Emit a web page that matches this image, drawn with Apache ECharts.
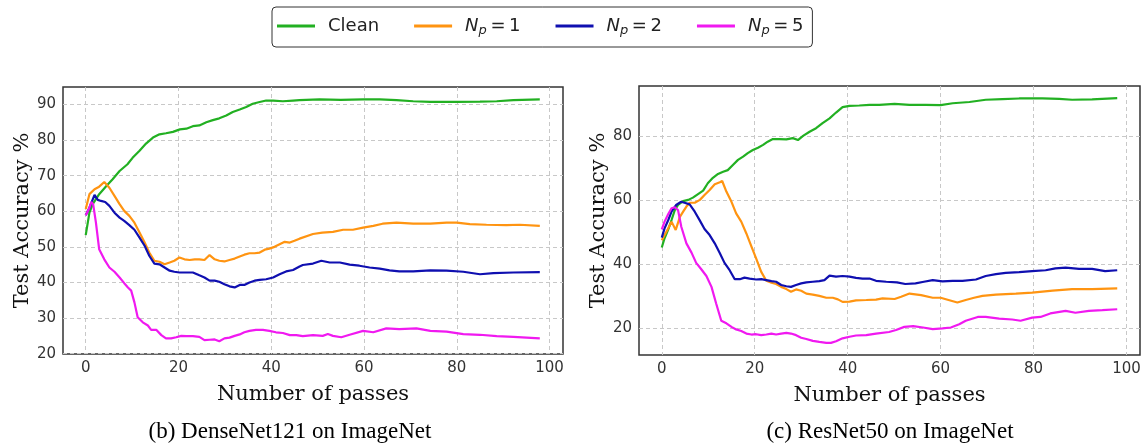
<!DOCTYPE html>
<html>
<head>
<meta charset="utf-8">
<script src="https://cdn.jsdelivr.net/npm/echarts@6/dist/echarts.min.js"></script>
<style>
  html, body { margin: 0; padding: 0; background: #fff; }
  #chart { width: 1146px; height: 447px; }
</style>
</head>
<body>
<div id="chart"></div>
<script>
// tick labels
var xTicks = [0, 20, 40, 60, 80, 100];
var yTicksLeft = [20, 30, 40, 50, 60, 70, 80, 90];
var yTicksRight = [20, 40, 60, 80];

var seriesNames = ['Clean', 'Np = 1', 'Np = 2', 'Np = 5'];
var seriesColors = ['#22b022', '#ff9411', '#0f0fb0', '#f019f0'];

// (b) DenseNet121 on ImageNet  -- [pass, accuracy]
var denseClean = [[0,53.3],[0.8,59.6],[1.5,62],[2.9,64.8],[4.4,67],[5.8,69],[7.3,71.3],[9,73.2],[10.1,75],[11.6,77],[13,79],[14.5,80.7],[15.9,81.6],[17.3,81.9],[18.8,82.3],[20.3,83],[21.7,83.2],[23.1,83.9],[24.5,84.1],[26,85],[27.4,85.6],[28.8,86.1],[30.3,86.9],[31.7,87.9],[33.2,88.6],[34.6,89.3],[36,90.2],[37.5,90.7],[38.9,91.1],[40.4,91.1],[42.5,90.9],[44.7,91.1],[46.1,91.2],[50.4,91.4],[55,91.3],[59.8,91.4],[63.4,91.4],[67,91.2],[70.6,90.9],[74.3,90.7],[80,90.7],[85,90.8],[88.6,90.9],[92.2,91.2],[97.9,91.4]];
var denseNp1 = [[0,60.6],[0.8,64.8],[1.9,66.2],[2.9,66.9],[4,68.2],[5.1,66.6],[6.2,64.3],[7.3,62],[8.3,60.1],[9.4,58.7],[10.5,56.8],[11.6,54],[12.7,51.2],[13.7,48.4],[14.8,46.1],[15.9,45.8],[17,45.1],[18.1,45.6],[19.1,46.1],[20.2,47],[21.3,46.5],[22.4,46.3],[23.5,46.5],[24.5,46.5],[25.6,46.3],[26.7,47.7],[27.8,46.5],[28.8,46.1],[29.9,45.9],[31,46.3],[32.1,46.7],[33.2,47.3],[34.2,47.8],[35.3,48.2],[36.4,48.2],[37.5,48.4],[38.6,49.2],[39.6,49.5],[40.7,50],[41.8,50.7],[42.9,51.4],[44,51.2],[45,51.7],[46.1,52.3],[49,53.6],[51,54],[53.3,54.2],[55.5,54.8],[57.6,54.8],[59.8,55.4],[62,55.9],[64,56.5],[67,56.8],[70.6,56.5],[74.3,56.5],[77.8,56.8],[80,56.8],[82.8,56.4],[86.4,56.2],[90.7,56.1],[93.6,56.2],[97.9,55.9]];
var denseNp2 = [[0,58.9],[0.8,61],[1.9,64.6],[2.6,63.2],[3.3,62.9],[4.2,62.6],[5.1,61.5],[6.2,59.6],[7.3,58.2],[8.3,57.3],[9.4,56.1],[10.5,54.8],[11.6,52.6],[12.7,50.3],[13.7,47.5],[14.8,45.3],[15.9,45.1],[17,44.2],[18.1,43.3],[19.1,43],[20.2,42.8],[21.7,42.8],[23.1,42.8],[24.5,42],[25.6,41.4],[26.7,40.5],[27.8,40.5],[28.8,40.2],[29.9,39.5],[31,38.9],[32.1,38.6],[33.2,39.3],[34.2,39.3],[35.3,40],[36.4,40.5],[37.5,40.7],[38.9,40.9],[40.4,41.4],[41.8,42.3],[43.2,43.1],[44.7,43.5],[46.1,44.5],[46.8,44.9],[49,45.3],[50.8,46.1],[52.6,45.6],[54.8,45.6],[56.9,45],[59,44.7],[61.2,44.2],[63.4,43.9],[65.5,43.4],[67.6,43.1],[70.6,43.1],[74.3,43.4],[77.8,43.3],[81.4,43],[85,42.3],[87.9,42.6],[92.2,42.8],[97.9,42.9]];
var denseNp5 = [[0,58.9],[0.8,61],[1.2,62.6],[1.6,62],[2.2,56.8],[2.9,49.3],[4,46.5],[5.1,44.2],[6.2,43],[7.3,41.4],[8.3,39.8],[9.1,38.6],[9.8,37.7],[10.5,34.4],[11.2,30.2],[12.3,28.8],[13.4,27.9],[14.1,26.7],[15.2,26.7],[16.3,25.2],[17.3,24.3],[18.4,24.3],[19.5,24.6],[20.6,25],[21.7,24.9],[23.1,24.9],[24.5,24.7],[25.6,23.8],[26.7,23.9],[27.8,24],[28.8,23.5],[29.9,24.3],[31,24.5],[32.1,25],[33.2,25.4],[34.2,26],[35.3,26.4],[36.7,26.7],[38.2,26.7],[39.6,26.4],[41,26],[42.5,25.8],[44,25.2],[45.4,25.2],[46.8,24.9],[49,25.2],[51.1,25],[52.2,25.5],[53.3,25],[55.1,24.6],[56.9,25.3],[59.8,26.4],[62,26],[64.8,27.1],[67.6,26.9],[71.3,27.1],[74.3,26.4],[77.8,26.2],[81.4,25.5],[85,25.3],[88.6,24.9],[92.2,24.7],[97.9,24.3]];

// (c) ResNet50 on ImageNet
var resClean = [[0,45.1],[0.6,48],[1.4,50.8],[2.1,53.7],[2.8,56.8],[3.5,58.4],[4.6,59.6],[5.7,60],[6.7,60.7],[7.8,61.8],[8.9,62.9],[9.9,65.2],[11,66.9],[12.1,68.1],[13.2,68.8],[14.2,69.3],[15.3,70.9],[16.4,72.5],[17.5,73.5],[18.5,74.6],[19.6,75.6],[20.7,76.3],[21.8,77.2],[22.8,78.2],[23.9,79],[25.3,79],[26.8,78.9],[28.2,79.3],[29.3,78.7],[30.4,80],[31.8,81.3],[33.2,82.4],[34.6,84],[36.1,85.5],[37.5,87.3],[38.9,89],[40.4,89.4],[42.5,89.5],[44.7,89.7],[46.8,89.7],[50.1,90],[53.3,89.7],[56.8,89.7],[60,89.6],[62.6,90.2],[66.2,90.6],[69.7,91.3],[73.3,91.5],[76.9,91.7],[81.9,91.7],[85.5,91.6],[88.3,91.3],[92.6,91.4],[98,91.8]];
var resNp1 = [[0,47.4],[0.6,49],[1.4,51.1],[2.1,53.2],[3,50.6],[3.9,54.7],[4.6,56.3],[5.3,57.9],[6,59.1],[7.1,59.1],[8.2,60],[9.2,61.5],[10.3,63.1],[11.4,64.9],[12.5,65.5],[13,65.9],[13.9,62.6],[15,59.4],[16,55.8],[17.1,53.2],[18.2,49.5],[19.3,45.4],[20.3,41.7],[21.4,37.5],[22.5,34.7],[23.6,34.1],[24.6,33.7],[25.7,32.8],[26.8,32.1],[27.8,31.3],[28.9,32],[30,31.6],[31.1,30.7],[32.5,30.4],[33.9,30],[35.4,29.4],[36.8,29.4],[37.9,28.9],[38.9,28.1],[40.4,28.2],[41.8,28.6],[44,28.7],[46.1,28.8],[47.5,29.2],[50.1,29],[51.5,29.7],[53.3,30.7],[55.8,30.2],[58.3,29.4],[60,29.4],[61.7,28.7],[63.6,27.9],[65.4,28.7],[67.2,29.4],[69,30],[71.9,30.4],[76.2,30.7],[79.7,31],[84.1,31.6],[88.3,32.1],[92.6,32.1],[98,32.3]];
var resNp2 = [[0,48.2],[0.6,51.1],[1.4,53.7],[2.1,56.3],[3.1,58.4],[4.1,59.4],[4.9,59.1],[6,58.6],[7.1,56.3],[8.2,53.5],[9.2,50.9],[10.3,49],[11.4,46.4],[12.5,43.3],[13.5,40.3],[14.6,38],[15.7,35.2],[16.8,35.2],[17.8,35.7],[18.9,35.4],[20.3,35.1],[21.4,35.2],[22.5,34.9],[23.6,34.6],[24.6,34.4],[25.7,33.4],[26.8,33],[27.8,32.8],[28.9,33.4],[30,33.9],[31.1,34.2],[32.5,34.4],[33.9,34.6],[35,34.9],[36.1,36.3],[37.5,36],[38.9,36.2],[40.4,36],[41.8,35.6],[43.2,35.4],[44.7,35.4],[46.1,34.7],[48.3,34.4],[50.6,34.2],[52.4,33.7],[54.6,33.9],[56.4,34.4],[58.3,34.9],[60.4,34.5],[62.6,34.7],[64.7,34.7],[67.6,35.1],[69.7,36.2],[71.9,36.8],[74,37.2],[76.9,37.4],[79.7,37.7],[82.6,38],[84.7,38.6],[86.9,38.8],[89.8,38.4],[92.6,38.4],[95.4,37.7],[98,38]];
var resNp5 = [[0,50.8],[0.6,53.2],[1.4,55.6],[2.1,57.4],[2.8,57.7],[3.5,56.8],[4.2,51.6],[5.3,46.4],[6.4,43.5],[7.4,40.3],[8.5,38.3],[9.6,36.2],[10.7,32.8],[11.7,27.6],[12.8,22.2],[13.9,21.4],[15,20.3],[16,19.5],[17.1,19],[18.2,18.2],[19.3,17.9],[20.3,18],[21.4,17.7],[22.5,17.9],[23.6,18.2],[24.6,17.9],[25.7,18.2],[26.8,18.4],[27.8,18.2],[28.9,17.7],[30,16.9],[31.1,16.5],[32.5,15.9],[33.9,15.6],[35.4,15.3],[36.4,15.3],[37.5,15.8],[38.9,16.7],[40.4,17.2],[41.8,17.6],[44,17.7],[46.1,18.2],[48.9,18.7],[50.4,19.3],[52.2,20.3],[54.1,20.5],[56.2,20.1],[58.3,19.6],[60.4,19.8],[62.2,20.1],[64,21.1],[65.4,22.2],[68,23.4],[69.7,23.4],[72.6,22.9],[75.4,22.6],[77.2,22.2],[79.7,23.2],[81.5,23.4],[83.6,24.5],[86.9,25.3],[89,24.7],[91.9,25.3],[94.8,25.5],[98,25.8]];

var panels = [
  { data: [denseClean, denseNp1, denseNp2, denseNp5], yMin: 19.9, yMax: 94.9, yTicks: yTicksLeft,
    caption: '(b) DenseNet121 on ImageNet', grid: { left: 63, top: 87, right: 583, bottom: 93 } },
  { data: [resClean, resNp1, resNp2, resNp5], yMin: 11.5, yMax: 95.6, yTicks: yTicksRight,
    caption: '(c) ResNet50 on ImageNet', grid: { left: 639, top: 86, right: 6, bottom: 92 } }
];

var tickFont = { fontFamily: 'DejaVu Sans', fontSize: 15, color: '#333' };
var nameFont = { fontFamily: 'DejaVu Serif', fontSize: 21, color: '#111' };
var gridLine = { show: true, lineStyle: { color: '#c8c8c8', type: [4, 3], width: 1 } };

var grids = [], xAxes = [], yAxes = [], series = [], graphics = [];
panels.forEach(function(p, k) {
  grids.push(Object.assign({ show: true, borderColor: '#333', borderWidth: 1.5, backgroundColor: '#fff' }, p.grid));
  xAxes.push({
    type: 'value', gridIndex: k, min: -4.9, max: 102.9,
    name: 'Number of passes', nameLocation: 'middle', nameGap: 30, nameTextStyle: nameFont,
    axisLine: { show: false },
    axisTick: { show: false, customValues: xTicks },
    axisLabel: Object.assign({ customValues: xTicks, margin: 7 }, tickFont),
    splitLine: gridLine
  });
  yAxes.push({
    type: 'value', gridIndex: k, min: p.yMin, max: p.yMax,
    name: 'Test Accuracy %', nameLocation: 'middle', nameGap: 30, nameRotate: 90, nameTextStyle: nameFont,
    axisLine: { show: false },
    axisTick: { show: false, customValues: p.yTicks },
    axisLabel: Object.assign({ customValues: p.yTicks, margin: 7 }, tickFont),
    splitLine: gridLine
  });
  p.data.forEach(function(d, i) {
    series.push({
      type: 'line', name: seriesNames[i], xAxisIndex: k, yAxisIndex: k,
      data: d, showSymbol: false, color: seriesColors[i],
      lineStyle: { width: 2.2 }, z: 3
    });
  });
  graphics.push({
    type: 'text', x: k === 0 ? 290 : 890, y: 432,
    style: { text: p.caption, fontFamily: 'Liberation Serif', fontSize: 23, fill: '#000',
             textAlign: 'center', textVerticalAlign: 'middle' }
  });
});

var chart = echarts.init(document.getElementById('chart'), null, { renderer: 'canvas' });
chart.setOption({
  animation: false,
  backgroundColor: '#fff',
  grid: grids,
  xAxis: xAxes,
  yAxis: yAxes,
  legend: {
    data: seriesNames,
    left: 272, top: 7,
    padding: [10, 9, 10, 5],
    itemGap: 35, itemWidth: 38, itemHeight: 3, icon: 'rect',
    borderColor: '#333', borderWidth: 1, borderRadius: 4,
    textStyle: {
      fontFamily: 'DejaVu Sans', fontSize: 18, color: '#222', padding: [0, 0, 0, 8],
      rich: {
        i: { fontFamily: 'DejaVu Sans', fontStyle: 'italic', fontSize: 18, color: '#222' },
        s: { fontFamily: 'DejaVu Sans', fontStyle: 'italic', fontSize: 13, color: '#222', padding: [9, 0, 0, 0] },
        t: { fontFamily: 'DejaVu Sans', fontSize: 18, color: '#222' }
      }
    },
    formatter: function(name) {
      if (name === 'Clean') return name;
      return '{i|N}{s|p}{t|' + name.slice(2).replace(/ /g, '\u2009') + '}';
    }
  },
  graphic: graphics,
  series: series
});
</script>
</body>
</html>
